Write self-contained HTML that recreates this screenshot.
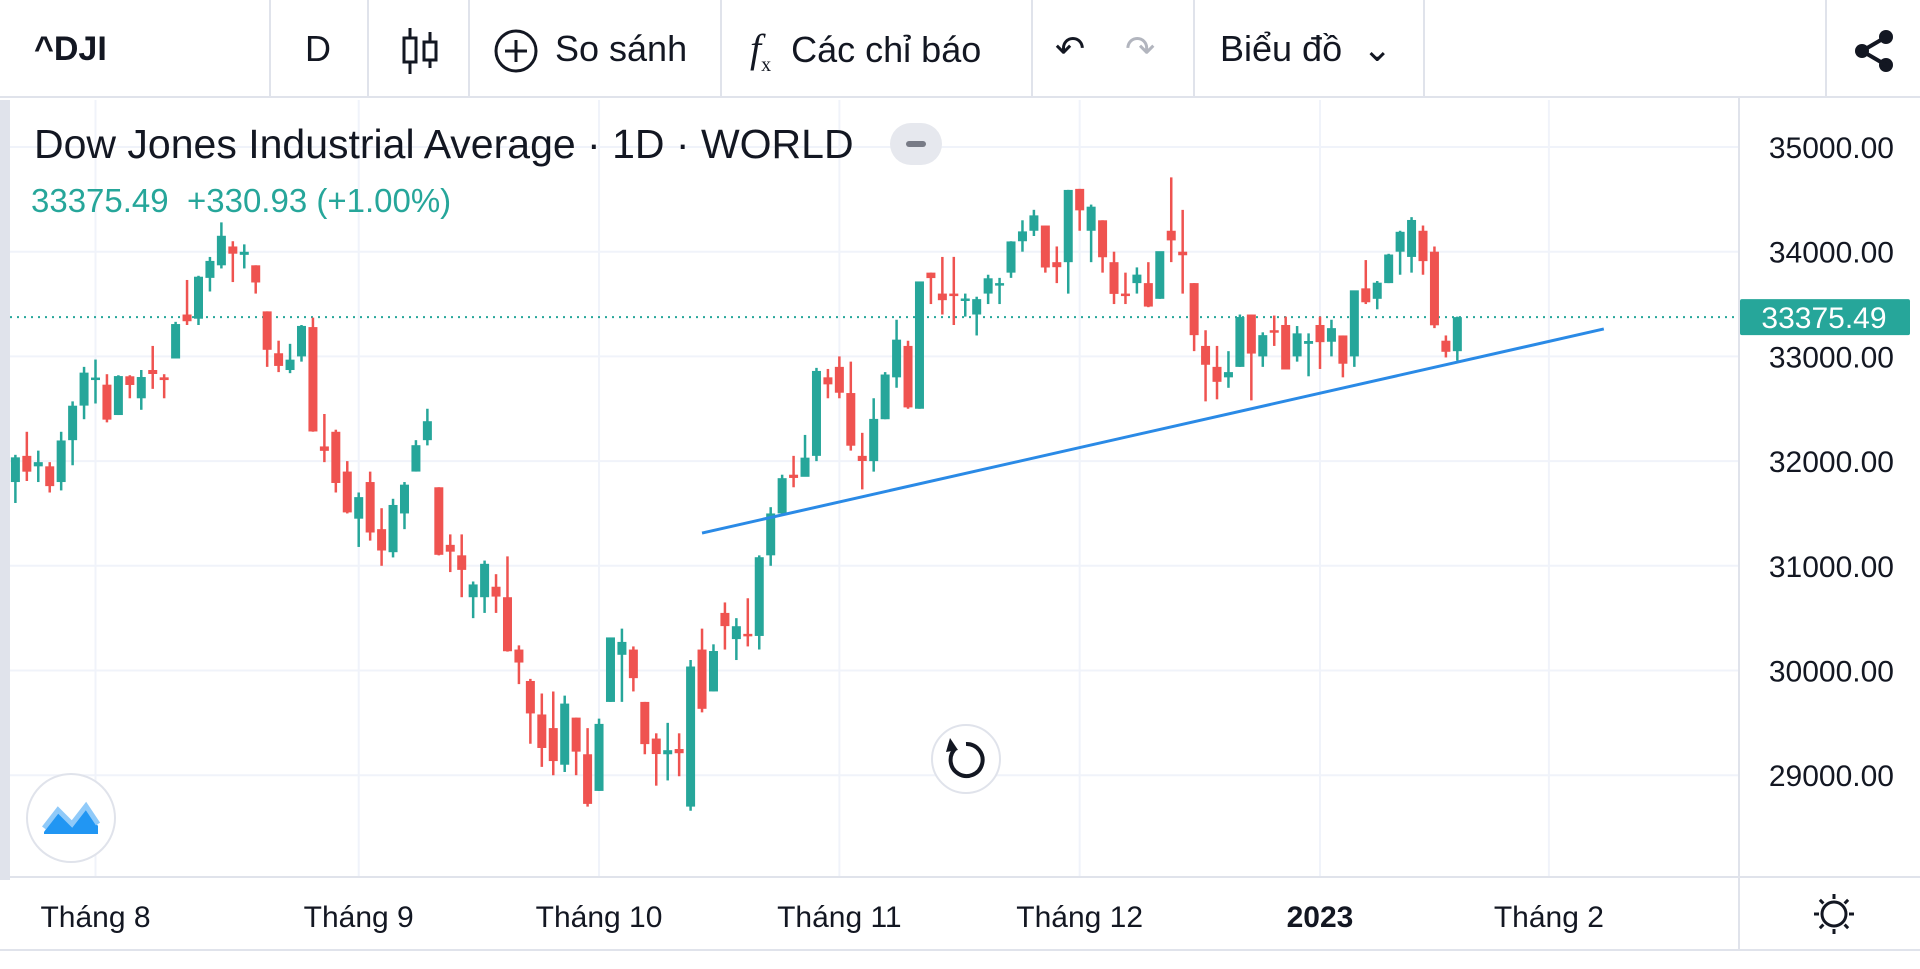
<!DOCTYPE html>
<html><head><meta charset="utf-8"><style>
body{margin:0;width:1920px;height:969px;overflow:hidden;background:#fff;font-family:"Liberation Sans",sans-serif;}
#wrap{position:relative;width:1920px;height:969px;}
.tb{position:absolute;top:0;left:0;width:1920px;height:98px;border-bottom:2px solid #e0e3eb;box-sizing:border-box;}
.ti{position:absolute;top:0;height:98px;line-height:98px;font-size:36px;color:#131722;}
.sep{position:absolute;top:0;width:2px;height:98px;background:#e0e3eb;}
</style></head><body><div id="wrap">
<div class="tb">
<div class="ti" style="left:34px;font-weight:bold;font-size:34px">^DJI</div>
<div class="sep" style="left:269px"></div>
<div class="ti" style="left:305px">D</div>
<div class="sep" style="left:367px"></div>
<div class="ti" style="left:400px"><svg width="40" height="50" style="vertical-align:middle"><g stroke="#131722" stroke-width="3" fill="none"><line x1="10" y1="2" x2="10" y2="48"/><rect x="4" y="12" width="12" height="24" fill="#fff"/><line x1="30" y1="6" x2="30" y2="42"/><rect x="24" y="16" width="12" height="18" fill="#fff"/></g></svg></div>
<div class="sep" style="left:468px"></div>
<div class="ti" style="left:493px"><svg width="46" height="46" style="vertical-align:middle;margin-right:16px"><circle cx="23" cy="23" r="20" stroke="#131722" stroke-width="3" fill="none"/><path d="M23 12v22M12 23h22" stroke="#131722" stroke-width="3"/></svg>So sánh</div>
<div class="sep" style="left:720px"></div>
<div class="ti" style="left:750px"><span style="font-style:italic;font-family:'Liberation Serif',serif;font-size:40px;margin-right:20px">f<sub style="font-size:20px;font-style:normal">x</sub></span>Các chỉ báo</div>
<div class="sep" style="left:1031px"></div>
<div class="ti" style="left:1055px;color:#131722">↶</div>
<div class="ti" style="left:1125px;color:#b2b5be">↷</div>
<div class="sep" style="left:1193px"></div>
<div class="ti" style="left:1220px">Biểu đồ &nbsp;⌄</div>
<div class="sep" style="left:1423px"></div>
<div class="sep" style="left:1825px"></div>
<div class="ti" style="left:1852px"><svg width="44" height="44" style="vertical-align:middle"><g fill="#131722"><circle cx="34" cy="8" r="7"/><circle cx="10" cy="22" r="7"/><circle cx="34" cy="36" r="7"/></g><path d="M34 8L10 22L34 36" stroke="#131722" stroke-width="4" fill="none"/></svg></div>
</div>
<svg id="ch" width="1920" height="969" style="position:absolute;top:0;left:0"></svg>
<div style="position:absolute;left:34px;top:121px;font-size:41px;color:#131722">Dow Jones Industrial Average · 1D · WORLD</div>
<div style="position:absolute;left:890px;top:123px;width:52px;height:42px;border-radius:21px;background:#e6e8ee"><div style="position:absolute;left:16px;top:18px;width:20px;height:6px;background:#787b86;border-radius:3px"></div></div>
<div style="position:absolute;left:31px;top:182px;font-size:33px;color:#26a69a">33375.49 &nbsp;+330.93 (+1.00%)</div>
<div style="position:absolute;left:0;top:100px;width:10px;height:780px;background:#e0e3eb"></div>
</div>
<script>
const dates=["Jul21","Jul22","Jul25","Jul26","Jul27","Jul28","Jul29"];
const opens=[31800,32050,31950,31950,31800,32200,32530,32780,32730,32440,32810,32600,32870,32800,32980,33400,33360,33750,33870,34050,33970,33870,33430,33030,32870,33000,33280,32140,32280,31900,31450,31800,31350,31130,31500,31900,32200,31750,31200,31100,30700,30700,30800,30700,30200,29900,29580,29450,29100,29550,29200,28850,29700,30150,30200,29700,29350,29200,29250,28700,30200,29800,30550,30300,30350,30330,31100,31500,31870,31850,32050,32800,32900,32650,32050,32000,32400,32800,33100,32500,33800,33600,33600,33550,33400,33600,33700,33800,34100,34200,34250,33900,33900,34600,34200,34300,33900,33600,33700,33700,33550,34200,34000,33700,33100,32900,32800,32900,33400,33000,33250,33300,33000,33120,33300,33140,33200,33000,33650,33550,33700,34000,33950,34200,34000,33150,33050];
const highs=[32060,32280,32100,31990,32280,32570,32900,32970,32830,32820,32820,32870,33100,32830,33330,33730,33770,33950,34280,34100,34070,33870,33430,33150,33120,33300,33370,32450,32300,32000,31700,31900,31550,31640,31800,32200,32500,31750,31300,31300,30850,31050,30920,31090,30240,29920,29780,29800,29760,29550,29450,29540,30200,30400,30230,29700,29400,29500,29400,30100,30400,30250,30650,30500,30690,31100,31560,31870,32050,32250,32890,32880,33000,32950,32270,32600,32850,33350,33150,33700,33800,33950,33950,33600,33570,33780,33750,34100,34300,34400,34250,34050,34590,34600,34450,34300,34000,33800,33850,33900,34000,34710,34400,33700,33250,33100,33050,33400,33400,33230,33390,33380,33290,33220,33380,33350,33200,33500,33920,33720,33980,34200,34330,34250,34050,33200,33380];
const lows=[31600,31810,31800,31700,31720,31960,32400,32550,32370,32440,32600,32490,32690,32600,32980,33300,33300,33620,33840,33710,33840,33600,32900,32850,32840,32950,32280,31990,31700,31500,31180,31240,31000,31080,31350,31900,32150,31100,30940,30700,30500,30550,30550,30180,29870,29300,29080,29000,29030,29000,28700,28850,29700,29700,29800,29200,28900,28950,28990,28660,29600,29800,30200,30100,30230,30200,31000,31500,31750,31900,32000,32600,32600,32100,31730,31900,32400,32700,32500,32500,33500,33400,33300,33380,33200,33500,33500,33750,34000,34150,33800,33700,33600,34200,33900,33800,33500,33500,33600,33470,33550,33900,33600,33050,32570,32590,32700,32900,32580,32900,33100,32880,32950,32810,32880,33000,32800,32900,33500,33450,33700,33780,33800,33780,33270,32990,32960];
const closes=[32036,31899,31990,31761,32197,32529,32845,32798,32396,32812,32727,32803,32832,32774,33309,33336,33761,33912,34152,33981,33999,33706,33063,32909,32969,33291,32283,32098,31791,31510,31656,31318,31146,31581,31775,32152,32381,31105,31135,30961,30822,31019,30706,30184,30076,29590,29260,29135,29684,29225,28726,29490,30316,30273,29927,29297,29202,29239,29210,30038,29634,30186,30424,30423,30333,31082,31500,31837,31839,32033,32861,32733,32653,32147,32001,32403,32827,33160,32513,33716,33748,33537,33593,33553,33547,33746,33700,34098,34194,34347,33849,33852,34590,34395,34430,33947,33597,33598,33781,33476,34005,34108,33966,33203,32920,32757,32850,33376,33027,33203,33241,32875,33220,33147,33136,33270,32930,33631,33517,33704,33973,34190,34303,33910,33297,33044,33375];
const priceTicks=[29000,30000,31000,32000,33000,34000,35000];
const monthLabels=["Tháng 8","Tháng 9","Tháng 10","Tháng 11","Tháng 12","2023","Tháng 2"];
const monthIdx=[7,30,51,72,93,114,134];
const lastPrice=33375.49;
const trendStart=[60,31313],trendEnd=[138.8,33262];
const NS="http://www.w3.org/2000/svg",svg=document.getElementById('ch');
const X=i=>95.5+(i-7)*11.444, Y=p=>147+(35000-p)*0.1047;
function mk(t,a){const e=document.createElementNS(NS,t);for(const k in a)e.setAttribute(k,a[k]);svg.appendChild(e);return e;}
priceTicks.forEach(p=>{const l=mk('line',{x1:10,x2:1739,y1:Y(p),y2:Y(p),stroke:'#f0f3fa','stroke-width':2});


const t=mk('text',{x:1894,y:Y(p)+11,'font-size':30,fill:'#131722','text-anchor':'end','font-family':'Liberation Sans'});t.textContent=p.toFixed(2);

});
monthIdx.forEach((m,k)=>{const l=mk('line',{x1:X(m),x2:X(m),y1:100,y2:877,stroke:'#f0f3fa','stroke-width':2});


const t=mk('text',{x:X(m),y:927,'font-size':30,fill:'#131722','text-anchor':'middle','font-family':'Liberation Sans','font-weight':monthLabels[k]=="2023"?'bold':'normal'});t.textContent=monthLabels[k];

});
mk('line',{x1:1739,x2:1739,y1:98,y2:950,stroke:'#e0e3eb','stroke-width':2});
mk('line',{x1:0,x2:1920,y1:877,y2:877,stroke:'#e0e3eb','stroke-width':2});
mk('line',{x1:0,x2:1920,y1:950,y2:950,stroke:'#e0e3eb','stroke-width':2});
const lp=mk('line',{x1:10,x2:1739,y1:Y(lastPrice),y2:Y(lastPrice),stroke:'#26a69a','stroke-width':2,'stroke-dasharray':'2 5'});


closes.forEach((c,i)=>{const o=opens[i],col=c>=o?'#26a69a':'#ef5350',x=X(i);
const w=mk('line',{x1:x,x2:x,y1:Y(highs[i]),y2:Y(lows[i]),stroke:col,'stroke-width':2.5});


const top=Y(Math.max(o,c)),h=Math.max(2.5,Math.abs(Y(o)-Y(c)));
const b=mk('rect',{x:x-4.5,y:top,width:9,height:h,fill:col});

});
const tl=mk('line',{x1:X(trendStart[0]),y1:Y(trendStart[1]),x2:X(trendEnd[0]),y2:Y(trendEnd[1]),stroke:'#2a8ae6','stroke-width':3});


const r=mk('rect',{x:1740,y:Y(lastPrice)-18,width:170,height:36,fill:'#26a69a',rx:2});


const tt=mk('text',{x:1824,y:Y(lastPrice)+11,'font-size':30,fill:'#fff','text-anchor':'middle','font-family':'Liberation Sans'});tt.textContent=lastPrice.toFixed(2);
const rb=mk('circle',{cx:966,cy:759,r:34,fill:'#fff',stroke:'#e0e3eb','stroke-width':2});


mk('path',{d:'M956 748 A16 16 0 1 0 966 744',fill:'none',stroke:'#131722','stroke-width':4});
mk('path',{d:'M950 738 L958 750 L946 752 Z',fill:'#131722'});
const lg=mk('circle',{cx:71,cy:818,r:44,fill:'#fff',stroke:'#e0e3eb','stroke-width':2});


mk('path',{d:'M44 832 L58 812 L72 826 L86 808 L98 826 L98 834 L44 834 Z',fill:'#2196f3'});
mk('path',{d:'M44 828 L58 810 L72 824 L86 806 L98 824',fill:'none',stroke:'#90caf9','stroke-width':5});
const g=mk('circle',{cx:1834,cy:914,r:12,fill:'none',stroke:'#131722','stroke-width':3});


for(let a=0;a<8;a++){const an=a*Math.PI/4;mk('line',{x1:1834+15*Math.cos(an),y1:914+15*Math.sin(an),x2:1834+20*Math.cos(an),y2:914+20*Math.sin(an),stroke:'#131722','stroke-width':3});}
</script></body></html>
